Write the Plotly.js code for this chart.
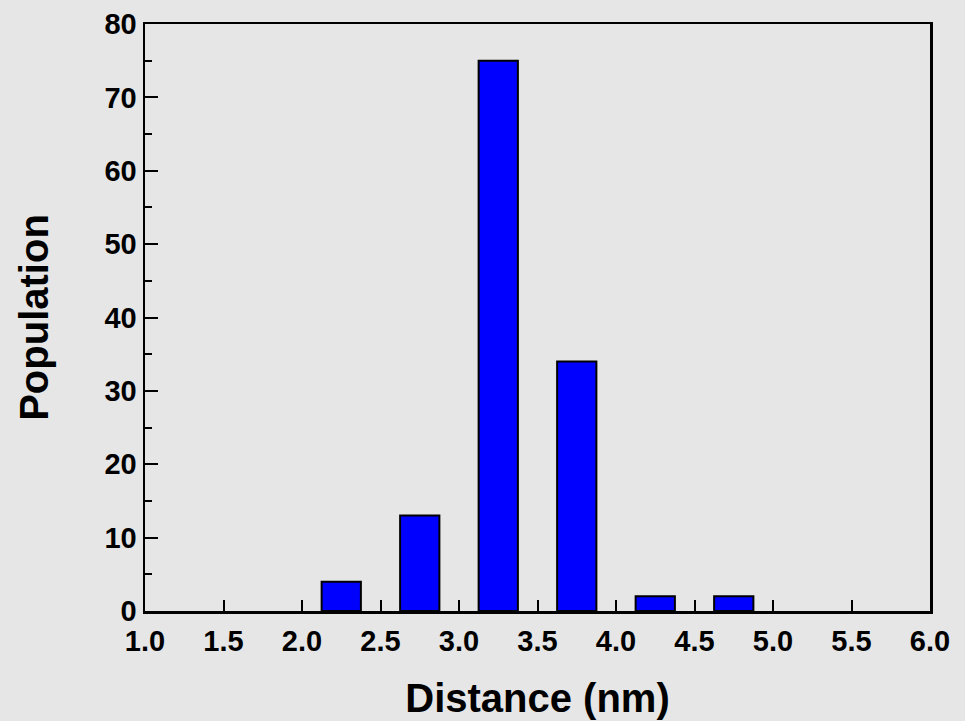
<!DOCTYPE html>
<html>
<head>
<meta charset="utf-8">
<script src="https://cdn.plot.ly/plotly-3.0.1.min.js"></script>
<style>html,body{margin:0;padding:0;background:#e6e6e6;}#chart{width:965px;height:721px;}</style>
</head>
<body>
<div id="chart"></div>
<script>
const binCenters = [2.25, 2.75, 3.25, 3.75, 4.25, 4.75];
const population = [4, 13, 75, 34, 2, 2];
const binWidth = 0.25;
const xTickVals = [1.0, 1.5, 2.0, 2.5, 3.0, 3.5, 4.0, 4.5, 5.0, 5.5, 6.0];
const xTickText = ["1.0","1.5","2.0","2.5","3.0","3.5","4.0","4.5","5.0","5.5","6.0"];
const yTickVals = [0,10,20,30,40,50,60,70,80];

const fam = "Liberation Sans, Arial, sans-serif";
const tickFont = {family: fam, size: 29, color: "#000", weight: "bold"};
const data = [{
  type: "bar",
  x: binCenters,
  y: population,
  width: binWidth,
  marker: {color: "#0000ff", line: {color: "#000", width: 2}},
  hoverinfo: "skip"
}];
const layout = {
  width: 965, height: 721,
  paper_bgcolor: "#e6e6e6", plot_bgcolor: "#e6e6e6",
  margin: {l: 145, r: 35, t: 24, b: 110},
  showlegend: false,
  font: {family: fam, color: "#000"},
  xaxis: {
    range: [1.0, 6.0], tickmode: "array", tickvals: xTickVals, ticktext: xTickText,
    ticks: "inside", ticklen: 11, tickwidth: 2, tickcolor: "#000",
    showline: true, linewidth: 2.5, linecolor: "#000", showgrid: false, zeroline: false,
    mirror: true, automargin: false, ticklabelstandoff: 3,
    tickfont: tickFont,
    title: {text: "<b>Distance (nm)</b>", font: {family: fam, size: 40, color: "#000"}, standoff: 28}
  },
  yaxis: {
    range: [0, 80], tickmode: "array", tickvals: yTickVals,
    ticks: "inside", ticklen: 13, tickwidth: 2, tickcolor: "#000",
    minor: {dtick: 5, tick0: 0, ticks: "inside", ticklen: 7, tickwidth: 2, tickcolor: "#000", showgrid: false},
    showline: true, linewidth: 2.5, linecolor: "#000", showgrid: false, zeroline: false,
    mirror: true, automargin: false,
    tickfont: tickFont,
    title: {text: "<b>Population</b>", font: {family: fam, size: 40, color: "#000"}, standoff: 44}
  },
  xaxis2: {
    overlaying: "x", side: "top", matches: "x", range: [1.0, 6.0],
    tickmode: "array", tickvals: xTickVals, showticklabels: false,
    ticks: "inside", ticklen: 3, tickwidth: 2, tickcolor: "#000",
    showline: false, showgrid: false, zeroline: false
  },
  yaxis2: {
    overlaying: "y", side: "right", range: [0, 80],
    tickmode: "array", tickvals: yTickVals, showticklabels: false,
    ticks: "inside", ticklen: 3, tickwidth: 2, tickcolor: "#000",
    showline: false, showgrid: false, zeroline: false
  }
};
Plotly.newPlot("chart", data, layout, {displayModeBar: false, staticPlot: true});
</script>
</body>
</html>
